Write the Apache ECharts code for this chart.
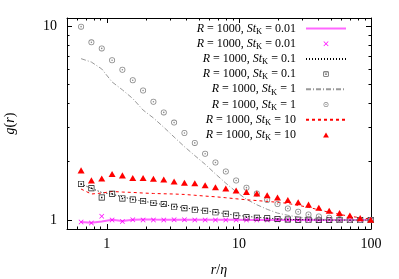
<!DOCTYPE html>
<html><head><meta charset="utf-8">
<script src="https://cdn.jsdelivr.net/npm/echarts@6/dist/echarts.min.js"></script>
<style>html,body{margin:0;padding:0;background:#fff}#c{width:399px;height:279px}</style>
</head><body><div id="c"></div>
<script>
const xVals = [0.639,0.765,0.916,1.097,1.313,1.573,1.883,2.255,2.70,3.233,3.871,4.637,5.552,6.648,7.961,9.532,11.41,13.67,16.37,19.60,23.47,28.10,33.65,40.29,48.25,57.78,69.20,82.84,99.5];
const st001Line = [0.977,0.970,0.985,1.005,0.990,1.003,1.008,1.006,1.005,1.003,1.003,1.004,1.004,1.004,1.003,1.003,1.002,1.002,1.002,1.001,1.001,1.001,1.001,1.0,1.0,1.0,1.0,1.0,1.0];
const st001Pts = [0.977,0.965,1.046,1.0,0.983,1.003,1.002,1.002,1.002,1.004,1.004,1.002,1.001,1.001,1.0,1.0,1.0,1.0,1.0,1.0,1.0,1.0,1.0,1.0,1.0,1.0,1.0,1.0,1.0];
const st01Line = [1.536,1.457,1.389,1.359,1.319,1.28,1.25,1.228,1.20,1.178,1.157,1.137,1.117,1.097,1.078,1.059,1.046,1.034,1.024,1.016,1.010,1.006,1.004,1.002,1.001,1.0,1.0,1.0,1.0];
const st01Pts = [1.536,1.460,1.308,1.367,1.293,1.276,1.254,1.226,1.211,1.171,1.151,1.130,1.117,1.097,1.078,1.055,1.034,1.028,1.022,1.013,1.007,1.005,1.003,1.002,1.001,1.0,1.0,1.0,1.0];
const st1Line = [6.79,6.52,6.01,5.15,4.69,4.23,3.69,3.36,3.01,2.68,2.39,2.15,1.94,1.73,1.55,1.40,1.28,1.20,1.137,1.087,1.059,1.037,1.021,1.012,1.006,1.003,1.0,1.0,1.0];
const st1Pts = [9.93,8.24,7.67,6.67,5.96,5.26,4.65,4.07,3.59,3.18,2.81,2.50,2.20,1.98,1.78,1.60,1.47,1.37,1.27,1.21,1.148,1.104,1.069,1.044,1.028,1.012,1.004,1.0,1.0];
const st10Line = [1.446,1.363,1.379,1.405,1.395,1.389,1.379,1.372,1.367,1.363,1.356,1.343,1.330,1.319,1.304,1.288,1.273,1.261,1.248,1.236,1.219,1.192,1.164,1.130,1.097,1.071,1.046,1.030,1.012];
const st10Pts = [1.804,1.602,1.640,1.728,1.700,1.648,1.648,1.635,1.621,1.583,1.558,1.549,1.513,1.477,1.456,1.422,1.395,1.370,1.343,1.308,1.269,1.236,1.202,1.157,1.117,1.087,1.056,1.024,1.004];
const seriesLabels = ['0.01','0.01','0.1','0.1','1','1','10','10'];
const xMajorTicks = [1,10,100];
const xMinorTicks = [0.5,0.6,0.7,0.8,0.9,2,3,4,5,6,7,8,9,20,30,40,50,60,70,80,90];
const yMajorTicks = [1,10];
const yMinorTicks = [2,3,4,5,6,7,8,9];

const serif = 'Liberation Serif';
const XMIN = 0.5, XMAX = 100, YMIN = 0.9, YMAX = 11;
const pair = (ys) => ys.map((y, i) => [xVals[i], y]);

function axisDef(pos, ticks, len, showLabel, showLine) {
  const isY = pos === 'left' || pos === 'right';
  return {
    type: 'log', logBase: 10, position: pos, min: isY ? YMIN : XMIN, max: isY ? YMAX : XMAX,
    axisLine: { show: showLine, onZero: false, lineStyle: { color: '#000', width: 1 } },
    axisTick: { show: true, inside: true, length: len, customValues: ticks, lineStyle: { color: '#000', width: 1 } },
    axisLabel: { show: showLabel, customValues: ticks, fontFamily: serif, fontSize: 14, color: '#000',
      margin: pos === 'bottom' ? 8 : 10 },
    splitLine: { show: false }, minorTick: { show: false }
  };
}
const xAxes = [
  axisDef('bottom', xMajorTicks, 5, true, true),
  axisDef('bottom', xMinorTicks, 2.5, false, false),
  axisDef('top', xMajorTicks, 5, false, true),
  axisDef('top', xMinorTicks, 2.5, false, false)
];
const yAxes = [
  axisDef('left', yMajorTicks, 5, true, true),
  axisDef('left', yMinorTicks, 2.5, false, false),
  axisDef('right', yMajorTicks, 5, false, true),
  axisDef('right', yMinorTicks, 2.5, false, false)
];
xAxes[0].name = '{i|r}/{i|η}';
xAxes[0].nameLocation = 'middle';
xAxes[0].nameGap = 34;
xAxes[0].nameTextStyle = { fontFamily: serif, fontSize: 14, color: '#000', rich: { i: { fontFamily: serif, fontStyle: 'italic', fontSize: 14 } } };
yAxes[0].name = '{i|g}({i|r})';
yAxes[0].nameLocation = 'middle';
yAxes[0].nameGap = 50;
yAxes[0].nameTextStyle = { fontFamily: serif, fontSize: 14, color: '#000', rich: { i: { fontFamily: serif, fontStyle: 'italic', fontSize: 14 } } };

const crossPath = 'path://M-5,-4L-4,-5L0,-1L4,-5L5,-4L1,0L5,4L4,5L0,1L-4,5L-5,4L-1,0Z';
const squarePath = 'path://M-5,-5H5V5H-5Z M-3.9,-3.9V3.9H3.9V-3.9Z M-1.2,-1.2H1.2V1.2H-1.2Z';
const circlePath = 'path://M0,-5A5,5 0 1,1 0,5A5,5 0 1,1 0,-5Z M0,-3.7A3.7,3.7 0 1,0 0,3.7A3.7,3.7 0 1,0 0,-3.7Z M0,-1.3A1.3,1.3 0 1,1 0,1.3A1.3,1.3 0 1,1 0,-1.3Z';
const trianglePath = 'path://M0,-5L5.5,4.5L-5.5,4.5Z';

const names = ['s0', 's1', 's2', 's3', 's4', 's5', 's6', 's7'];
const lineSeries = (name, data, color, width, type) => ({
  name, type: 'line', data: pair(data), symbol: 'none', showSymbol: false, smooth: false,
  lineStyle: { color, width, type }, itemStyle: { color }, z: 2, animation: false
});
const ptSeries = (name, data, color, symbol, size) => ({
  name, type: 'scatter', data: pair(data), symbol, symbolSize: size, symbolKeepAspect: true,
  itemStyle: { color, opacity: 1 }, z: 3, animation: false
});
const series = [
  lineSeries(names[0], st001Line, '#ff66ff', 2, 'solid'),
  ptSeries(names[1], st001Pts, '#ff00ff', crossPath, 5),
  lineSeries(names[2], st01Line, '#000000', 1, [1, 2]),
  ptSeries(names[3], st01Pts, '#111111', squarePath, 6),
  lineSeries(names[4], st1Line, '#999999', 1, [5, 2, 1, 2]),
  ptSeries(names[5], st1Pts, '#8a8a8a', circlePath, 6),
  lineSeries(names[6], st10Line, '#ff0000', 1, [3, 3]),
  ptSeries(names[7], st10Pts, '#ff0000', trianglePath, 7)
];

const chart = echarts.init(document.getElementById('c'), null, { renderer: 'canvas' });
chart.setOption({
  animation: false,
  backgroundColor: '#fff',
  grid: { left: 67, right: 28, top: 18, bottom: 50, containLabel: false, outerBoundsMode: 'none' },
  xAxis: xAxes,
  yAxis: yAxes,
  legend: {
    orient: 'vertical', right: 47, top: 16, align: 'right', selectedMode: false,
    itemWidth: 40, itemHeight: 5, itemGap: 0.2, symbolKeepAspect: true,
    data: names.map((n, i) => i % 2 === 0 ? { name: n, itemStyle: { opacity: 0 } } : { name: n }),
    formatter: (n) => '{i|R} = 1000, {i|St}{s|K}{t| = ' + seriesLabels[names.indexOf(n)] + '}',
    textStyle: { fontFamily: serif, fontSize: 12, color: '#000', lineHeight: 15,
      rich: {
        i: { fontFamily: serif, fontStyle: 'italic', fontSize: 12, lineHeight: 15 },
        s: { fontFamily: serif, fontSize: 8.5, lineHeight: 9, verticalAlign: 'bottom' },
        t: { fontFamily: serif, fontSize: 12, lineHeight: 15, padding: [0, 5, 0, 0] }
      } }
  },
  series
});
</script></body></html>
